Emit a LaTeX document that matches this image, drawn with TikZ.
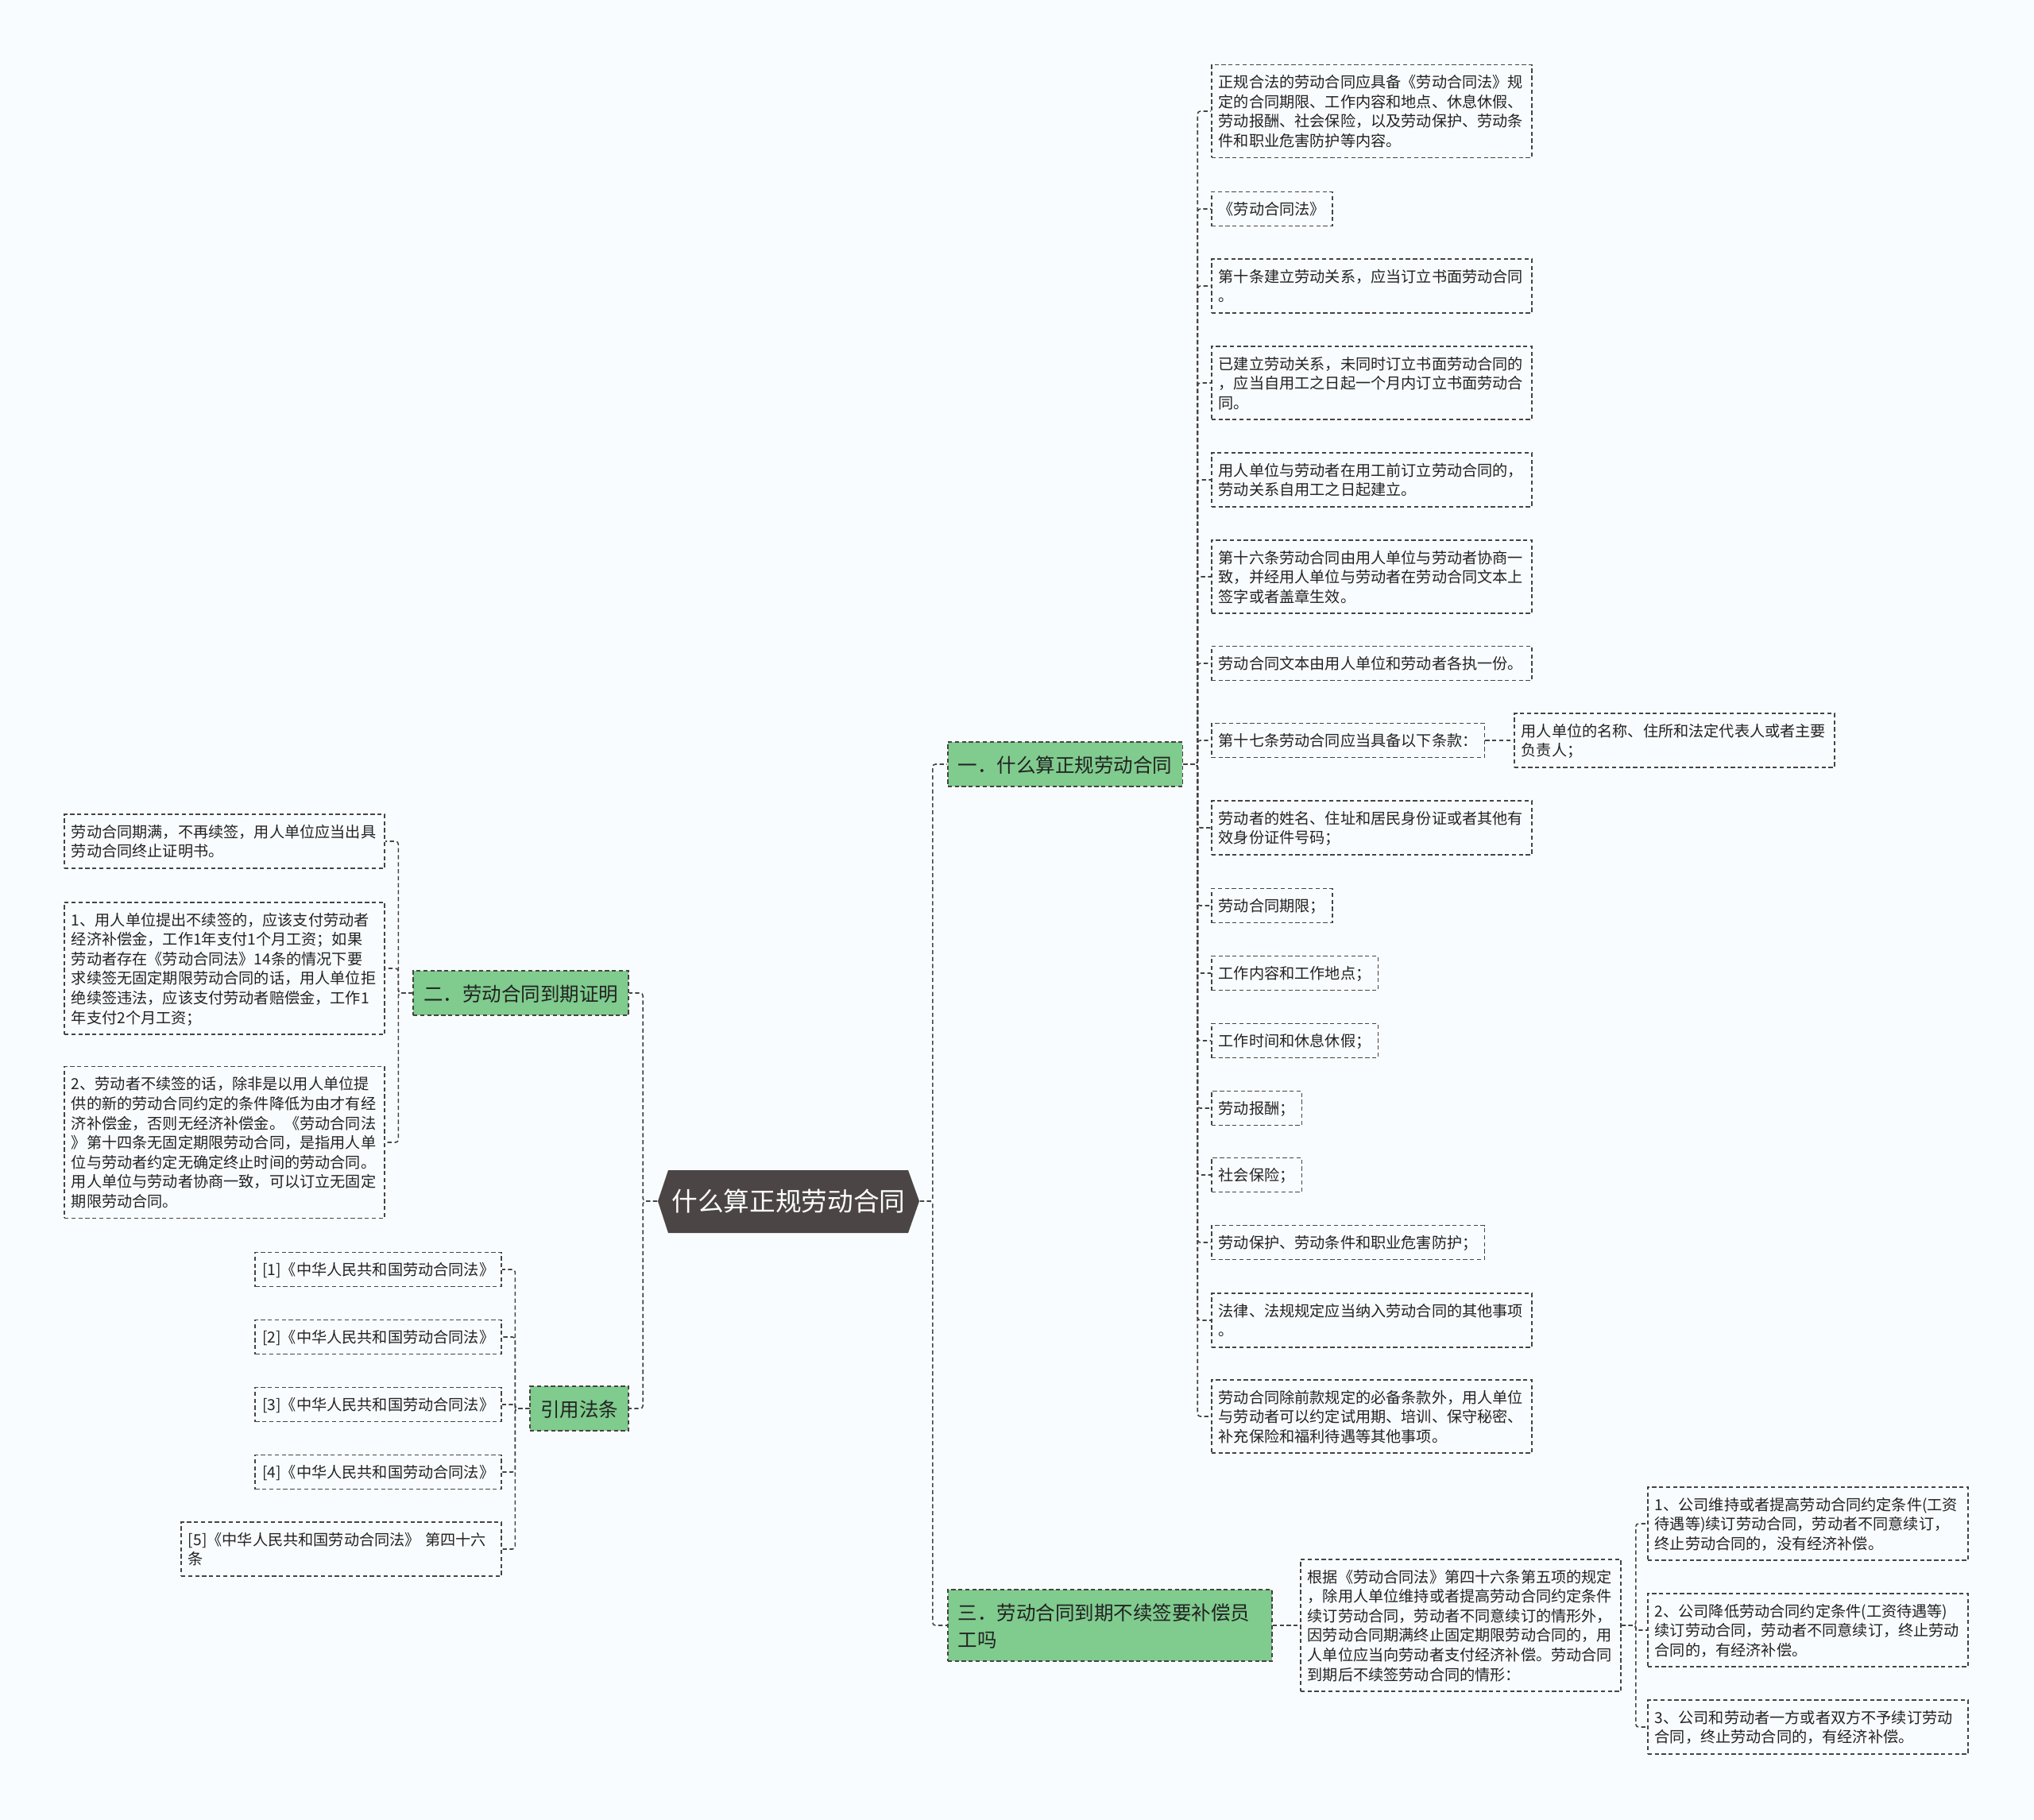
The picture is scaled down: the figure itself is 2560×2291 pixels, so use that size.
\documentclass[tikz,border=0pt]{standalone}
\usepackage{fontspec}
\setmainfont{Noto Sans CJK SC}
\usetikzlibrary{calc}
\definecolor{bgpaper}{RGB}{249,252,254}
\definecolor{linegray}{RGB}{68,68,68}
\definecolor{textgray}{RGB}{34,34,34}
\definecolor{branchgreen}{RGB}{128,203,142}
\definecolor{rootgray}{RGB}{75,69,70}
\newcommand{\leaffont}{\fontsize{5.45pt}{7pt}\selectfont}
\newcommand{\branchfont}{\fontsize{6.97pt}{9.67pt}\selectfont}
\newcommand{\rootfont}{\fontsize{9.3pt}{11pt}\selectfont}
\newcommand{\boxstrut}{\rule[-0.19\baselineskip]{0pt}{\baselineskip}}
\tikzstyle{leafbox}=[draw=linegray, line width=0.45pt, dash pattern=on 1.5pt off 1pt, text=textgray, font=\leaffont, align=left, inner xsep=0.09cm, inner ysep=0.092cm, execute at begin node=\boxstrut, execute at end node=\boxstrut]
\tikzstyle{wideleaf}=[leafbox, text width=3.85cm]
\tikzstyle{branchbox}=[leafbox, fill=branchgreen, font=\branchfont, inner xsep=0.13cm, inner ysep=0.11cm]
\tikzstyle{centerbox}=[text=white, font=\rootfont, minimum width=3.29cm, minimum height=0.79cm, inner sep=0pt]
\tikzstyle{link}=[draw=linegray, line width=0.45pt, dash pattern=on 1.5pt off 1pt, rounded corners=1pt]

\begin{document}
\begin{tikzpicture}[x=0.01cm, y=-0.01cm]
    \fill[bgpaper] (0,0) rectangle (2560,2291);
    \useasboundingbox (0,0) rectangle (2560,2291);

    %root
    \fill[rootgray] (828,1512) -- (841,1473) -- (1143,1473) -- (1157,1512) -- (1143,1552) -- (841,1552) -- cycle;
    \node[centerbox] (root) at (992.5,1512) {什么算正规劳动合同};

    %branches
    \node[branchbox, anchor=west] (b1) at (1192,962) {一．什么算正规劳动合同};
    \node[branchbox, anchor=west, text width=3.82cm] (b3) at (1192,2046) {三．劳动合同到期不续签要补偿员\\工吗};
    \node[branchbox, anchor=east] (b2) at (792,1250) {二．劳动合同到期证明};
    \node[branchbox, anchor=east] (b4) at (792,1773) {引用法条};

    %branch one
    \node[wideleaf, anchor=west] (r1) at (1524,140) {正规合法的劳动合同应具备《劳动合同法》规\\定的合同期限、工作内容和地点、休息休假、\\劳动报酬、社会保险，以及劳动保护、劳动条\\件和职业危害防护等内容。};
    \node[wideleaf, anchor=west] (r3) at (1524,360) {第十条建立劳动关系，应当订立书面劳动合同\\。};
    \node[wideleaf, anchor=west] (r4) at (1524,482) {已建立劳动关系，未同时订立书面劳动合同的\\，应当自用工之日起一个月内订立书面劳动合\\同。};
    \node[wideleaf, anchor=west] (r5) at (1524,604) {用人单位与劳动者在用工前订立劳动合同的，\\劳动关系自用工之日起建立。};
    \node[wideleaf, anchor=west] (r6) at (1524,726) {第十六条劳动合同由用人单位与劳动者协商一\\致，并经用人单位与劳动者在劳动合同文本上\\签字或者盖章生效。};
    \node[wideleaf, anchor=west] (r7) at (1524,835) {劳动合同文本由用人单位和劳动者各执一份。};
    \node[wideleaf, anchor=west] (r9) at (1524,1042) {劳动者的姓名、住址和居民身份证或者其他有\\效身份证件号码；};
    \node[wideleaf, anchor=west] (r16) at (1524,1662) {法律、法规规定应当纳入劳动合同的其他事项\\。};
    \node[wideleaf, anchor=west] (r17) at (1524,1783) {劳动合同除前款规定的必备条款外，用人单位\\与劳动者可以约定试用期、培训、保守秘密、\\补充保险和福利待遇等其他事项。};
    \foreach \n/\y/\t in {r2/263/《劳动合同法》, r8/932/第十七条劳动合同应当具备以下条款：, r10/1140/劳动合同期限；, r11/1225/工作内容和工作地点；, r12/1310/工作时间和休息休假；, r13/1395/劳动报酬；, r14/1479/社会保险；, r15/1564/劳动保护、劳动条件和职业危害防护；} {
    \node[leafbox, anchor=west] (\n) at (1524,\y) {\t};
    }
    \node[wideleaf, anchor=west] (r8a) at (1905,932) {用人单位的名称、住所和法定代表人或者主要\\负责人；};

    %branch two
    \node[wideleaf, anchor=east] (left1) at (485,1059) {劳动合同期满，不再续签，用人单位应当出具\\劳动合同终止证明书。};
    \node[wideleaf, anchor=east] (left2) at (485,1219) {1、用人单位提出不续签的，应该支付劳动者\\经济补偿金，工作1年支付1个月工资；如果\\劳动者存在《劳动合同法》14条的情况下要\\求续签无固定期限劳动合同的话，用人单位拒\\绝续签违法，应该支付劳动者赔偿金，工作1\\年支付2个月工资；};
    \node[wideleaf, anchor=east] (left3) at (485,1438) {2、劳动者不续签的话，除非是以用人单位提\\供的新的劳动合同约定的条件降低为由才有经\\济补偿金，否则无经济补偿金。《劳动合同法\\》第十四条无固定期限劳动合同，是指用人单\\位与劳动者约定无确定终止时间的劳动合同。\\用人单位与劳动者协商一致，可以订立无固定\\期限劳动合同。};

    %citations
    \foreach \i/\y in {1/1598,2/1683,3/1768,4/1853} {
    \node[leafbox, anchor=east] (ref\i) at (632,\y) {[\i]《中华人民共和国劳动合同法》};
    }
    \node[wideleaf, anchor=east] (ref5) at (632,1950) {[5]《中华人民共和国劳动合同法》 第四十六\\条};

    %branch three
    \node[wideleaf, anchor=west] (d0) at (1636,2046) {根据《劳动合同法》第四十六条第五项的规定\\，除用人单位维持或者提高劳动合同约定条件\\续订劳动合同，劳动者不同意续订的情形外，\\因劳动合同期满终止固定期限劳动合同的，用\\人单位应当向劳动者支付经济补偿。劳动合同\\到期后不续签劳动合同的情形：};
    \node[wideleaf, anchor=west] (c1) at (2073,1918) {1、公司维持或者提高劳动合同约定条件(工资\\待遇等)续订劳动合同，劳动者不同意续订，\\终止劳动合同的，没有经济补偿。};
    \node[wideleaf, anchor=west] (c2) at (2073,2052) {2、公司降低劳动合同约定条件(工资待遇等)\\续订劳动合同，劳动者不同意续订，终止劳动\\合同的，有经济补偿。};
    \node[wideleaf, anchor=west] (c3) at (2073,2174) {3、公司和劳动者一方或者双方不予续订劳动\\合同，终止劳动合同的，有经济补偿。};

    %links
    \draw[link] (root.east) -- ++(16,0) |- (b1.west);
    \draw[link] (root.east) -- ++(16,0) |- (b3.west);
    \draw[link] (root.west) -- ++(-18,0) |- (b2.east);
    \draw[link] (root.west) -- ++(-18,0) |- (b4.east);
    \foreach \i in {1,...,17} {\draw[link] (b1.east) -- ++(18,0) |- (r\i.west);}
    \draw[link] (r8.east) -- (r8a.west);
    \foreach \n in {left1,left2,left3} {\draw[link] (b2.west) -- ++(-18,0) |- (\n.east);}
    \foreach \i in {1,...,5} {\draw[link] (b4.west) -- ++(-18,0) |- (ref\i.east);}
    \draw[link] (b3.east) -- (d0.west);
    \foreach \i in {1,2,3} {\draw[link] (d0.east) -- ++(18,0) |- (c\i.west);}

\end{tikzpicture}
\end{document}
